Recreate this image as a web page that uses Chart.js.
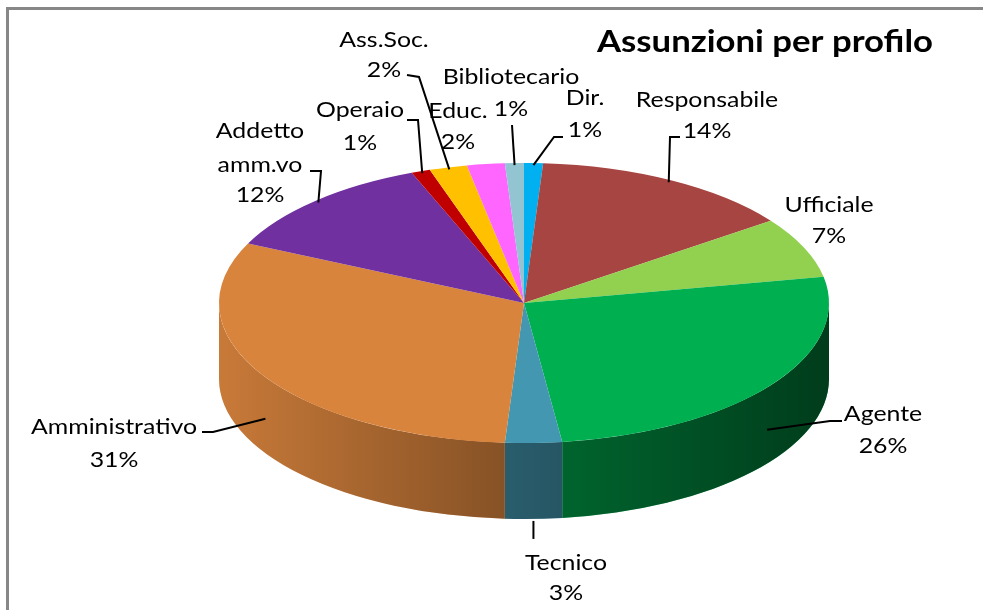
<!DOCTYPE html>
<html><head><meta charset="utf-8">
<script src="https://cdn.jsdelivr.net/npm/chart.js@4.4.1/dist/chart.umd.min.js"></script>
<style>html,body{margin:0;padding:0;background:#fff;overflow:hidden}canvas{display:block}</style>
</head><body>
<canvas id="c" width="983" height="610"></canvas>
<script>
// ---- data ----
const categories = ['Dir.', 'Responsabile', 'Ufficiale', 'Agente', 'Tecnico', 'Amministrativo', 'Addetto amm.vo', 'Operaio', 'Ass.Soc.', 'Educ.', 'Bibliotecario'];
const percentages = [1, 14, 7, 26, 3, 31, 12, 1, 2, 2, 1];
const sliceColors = ['#00B0F0', '#A64541', '#92D050', '#00B050', '#4397B0', '#D9843D', '#7030A0', '#C00000', '#FFC000', '#FF66FF', '#93C4D2'];
const chartTitle = 'Assunzioni per profilo';

// ---- layout (label placement, not data) ----
const labelLayout = [
  { lines: ['Dir.', '1%'], x: 585, y: [105, 137], tail: [[563, 137], [554, 137]], edge: 'top' },
  { lines: ['Responsabile', '14%'], x: 707, y: [107, 138], tail: [[680, 137], [670, 137]], edge: 'top' },
  { lines: ['Ufficiale', '7%'], x: 829, y: [212, 243], tail: null },
  { lines: ['Agente', '26%'], x: 883, y: [421, 453], tail: [[842, 421], [830, 421]], edge: 'side' },
  { lines: ['Tecnico', '3%'], x: 566, y: [570, 600], tail: 'drop', edge: 'bottom' },
  { lines: ['Amministrativo', '31%'], x: 114, y: [434, 467], tail: [[202, 432], [213, 432]], edge: 'side' },
  { lines: ['Addetto', 'amm.vo', '12%'], x: 260, y: [138, 172, 202], tail: [[310, 171], [321, 171]], edge: 'top' },
  { lines: ['Operaio', '1%'], x: 360, y: [117, 150], tail: [[407, 120], [418, 120]], edge: 'top' },
  { lines: ['Ass.Soc.', '2%'], x: 384, y: [47, 77], tail: [[407, 75], [419, 77]], edge: 'top' },
  { lines: ['Educ.', '2%'], x: 458, y: [118, 149], tail: null },
  { lines: ['Bibliotecario', '1%'], x: 511, y: [84, 116], tail: [[512, 125]], edge: 'top' }
];

const K = 140 / 305;      // vertical flattening of the pie
const DEPTH = 76;         // thickness of the 3D side

const pie3d = {
  id: 'pie3d',
  beforeDraw(chart) {
    const ctx = chart.ctx;
    ctx.save();
    ctx.fillStyle = '#878787';
    ctx.fillRect(6, 7, 977, 3);
    ctx.fillRect(6, 7, 3, 603);
    ctx.restore();
  },
  beforeDatasetsDraw(chart) {
    const ctx = chart.ctx;
    const meta = chart.getDatasetMeta(0);
    const a0 = meta.data[0];
    const cx = a0.x, cy = a0.y, rx = a0.outerRadius, ry = rx * K;
    ctx.save();
    meta.data.forEach((arc) => {
      const s = Math.max(arc.startAngle, 0), e = Math.min(arc.endAngle, Math.PI);
      if (e <= s) return;
      ctx.beginPath();
      ctx.ellipse(cx, cy, rx, ry, 0, s, e, false);
      ctx.lineTo(cx + rx * Math.cos(e), cy + ry * Math.sin(e) + DEPTH);
      ctx.ellipse(cx, cy + DEPTH, rx, ry, 0, e, s, true);
      ctx.closePath();
      ctx.fillStyle = arc.options.backgroundColor;
      ctx.fill();
      const g = ctx.createLinearGradient(cx - rx, 0, cx + rx, 0);
      g.addColorStop(0, 'rgba(0,0,0,0.08)');
      g.addColorStop(0.5, 'rgba(0,0,0,0.40)');
      g.addColorStop(1, 'rgba(0,0,0,0.66)');
      ctx.fillStyle = g;
      ctx.fill();
    });
    ctx.restore();
    ctx.save();
    ctx.translate(cx, cy);
    ctx.scale(1, K);
    ctx.translate(-cx, -cy);
  },
  afterDatasetsDraw(chart) {
    const ctx = chart.ctx;
    ctx.restore();
    const meta = chart.getDatasetMeta(0);
    const a0 = meta.data[0];
    const cx = a0.x, cy = a0.y, rx = a0.outerRadius, ry = rx * K;

    ctx.save();
    ctx.font = '21px Lato';
    const sx = 166 / ctx.measureText('Amministrativo').width;
    ctx.fillStyle = '#000';
    ctx.textAlign = 'center';
    ctx.textBaseline = 'alphabetic';
    labelLayout.forEach((L, i) => {
      L.lines.forEach((t, j) => {
        ctx.save();
        ctx.translate(L.x, L.y[j]);
        ctx.scale(sx, 1);
        ctx.fillText(t, 0, 0);
        ctx.restore();
      });
      if (!L.tail) return;
      const arc = meta.data[i];
      const m = (arc.startAngle + arc.endAngle) / 2;
      let ex = cx + rx * 0.985 * Math.cos(m), ey = cy + ry * 0.985 * Math.sin(m);
      if (L.edge === 'side') ey += DEPTH * 0.6;
      if (L.edge === 'bottom') ey = cy + ry * Math.sin(m) + DEPTH;
      let pts;
      if (L.tail === 'drop') pts = [[ex, ey + 2], [ex, ey + 20]];
      else pts = L.tail.concat([[ex, ey]]);
      ctx.beginPath();
      ctx.moveTo(pts[0][0], pts[0][1]);
      for (let k = 1; k < pts.length; k++) ctx.lineTo(pts[k][0], pts[k][1]);
      ctx.strokeStyle = '#000';
      ctx.lineWidth = 2;
      ctx.stroke();
    });
    ctx.restore();

    ctx.save();
    ctx.font = 'bold 31px Lato';
    const tw = ctx.measureText(chartTitle).width;
    ctx.translate(597, 52);
    ctx.scale(336 / tw, 1);
    ctx.fillStyle = '#000';
    ctx.textAlign = 'left';
    ctx.textBaseline = 'alphabetic';
    ctx.fillText(chartTitle, 0, 0);
    ctx.restore();
  }
};

new Chart(document.getElementById('c'), {
  type: 'pie',
  data: {
    labels: categories,
    datasets: [{
      data: percentages,
      backgroundColor: sliceColors,
      borderWidth: 0,
      radius: 305,
      clip: false
    }]
  },
  options: {
    responsive: false,
    animation: false,
    devicePixelRatio: 1,
    layout: { padding: { left: 65, right: 0, top: 0, bottom: 4 } },
    plugins: { legend: { display: false }, tooltip: { enabled: false }, title: { display: false } },
    events: []
  },
  plugins: [pie3d]
});
</script>
</body></html>
